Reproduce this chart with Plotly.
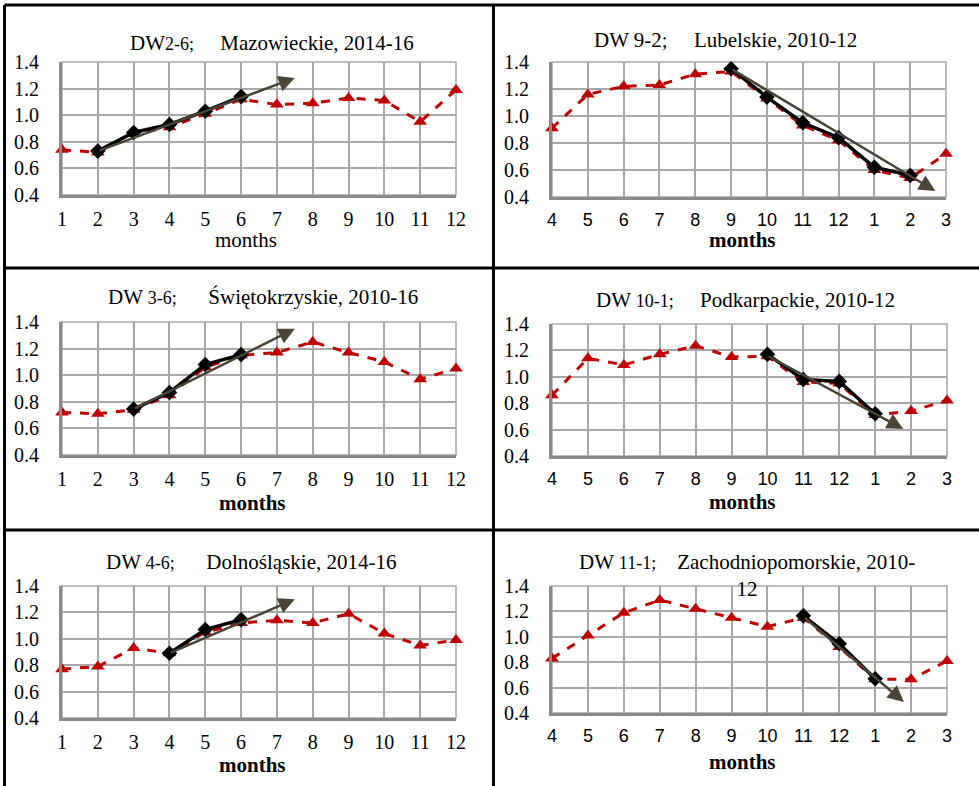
import plotly.graph_objects as go

W, H = 979, 786

months_jan = ["1", "2", "3", "4", "5", "6", "7", "8", "9", "10", "11", "12"]
months_apr = ["4", "5", "6", "7", "8", "9", "10", "11", "12", "1", "2", "3"]

# Panel data (index positions along the 12-month axis)
red_maz = [0.74, 0.72, 0.86, 0.91, 1.01, 1.12, 1.08, 1.09, 1.13, 1.11, 0.95, 1.19]
black_maz_x = [1, 2, 3, 4, 5]
black_maz = [0.73, 0.87, 0.93, 1.03, 1.14]
arrow_maz_x = [1, 6.5]
arrow_maz_y = [0.73, 1.28]

red_lub = [0.91, 1.16, 1.22, 1.23, 1.31, 1.33, 1.13, 0.93, 0.82, 0.60, 0.54, 0.72]
black_lub_x = [5, 6, 7, 8, 9, 10]
black_lub = [1.35, 1.14, 0.95, 0.84, 0.62, 0.56]
arrow_lub_x = [5, 10.7]
arrow_lub_y = [1.35, 0.445]

red_swi = [0.72, 0.71, 0.74, 0.85, 1.06, 1.15, 1.17, 1.25, 1.17, 1.10, 0.97, 1.05]
black_swi_x = [2, 3, 4, 5]
black_swi = [0.745, 0.87, 1.08, 1.155]
arrow_swi_x = [2, 6.5]
arrow_swi_y = [0.745, 1.35]

red_pod = [0.86, 1.14, 1.09, 1.17, 1.235, 1.15, 1.155, 0.96, 0.95, 0.71, 0.74, 0.82]
black_pod_x = [6, 7, 8, 9]
black_pod = [1.17, 0.98, 0.965, 0.72]
arrow_pod_x = [6, 9.78]
arrow_pod_y = [1.16, 0.605]

red_dol = [0.77, 0.79, 0.93, 0.89, 1.05, 1.12, 1.14, 1.12, 1.19, 1.04, 0.95, 0.99]
black_dol_x = [3, 4, 5]
black_dol = [0.89, 1.07, 1.145]
arrow_dol_x = [3, 6.5]
arrow_dol_y = [0.89, 1.30]

red_zac = [0.83, 1.01, 1.19, 1.29, 1.22, 1.15, 1.08, 1.15, 0.92, 0.665, 0.665, 0.81]
black_zac_x = [7, 8, 9]
black_zac = [1.165, 0.945, 0.67]
arrow_zac_x = [7, 9.8]
arrow_zac_y = [1.16, 0.487]

S = "\u00a0"
small = "<span style='font-size:18px'>{}</span>"

panels = [
    dict(title="DW" + small.format("2-6;") + S * 5 + "Mazowieckie, 2014-16",
         labels=months_jan, red=red_maz, bx=black_maz_x, by=black_maz,
         ax=arrow_maz_x, ay=arrow_maz_y, box=(62, 456, 62, 195),
         tpos=(272, 43), mpos=(246, 240), bold=False, sans=False),
    dict(title="DW 9-2;" + S * 5 + "Lubelskie, 2010-12",
         labels=months_apr, red=red_lub, bx=black_lub_x, by=black_lub,
         ax=arrow_lub_x, ay=arrow_lub_y, box=(552, 946, 62, 197),
         tpos=(725, 40), mpos=(742, 240), bold=True, sans=True),
    dict(title="DW " + small.format("3-6;") + S * 6 + "Świętokrzyskie, 2010-16",
         labels=months_jan, red=red_swi, bx=black_swi_x, by=black_swi,
         ax=arrow_swi_x, ay=arrow_swi_y, box=(62, 456, 322, 455),
         tpos=(263, 297), mpos=(252, 503), bold=True, sans=False),
    dict(title="DW " + small.format("10-1;") + S * 5 + "Podkarpackie, 2010-12",
         labels=months_apr, red=red_pod, bx=black_pod_x, by=black_pod,
         ax=arrow_pod_x, ay=arrow_pod_y, box=(552, 947, 324, 456),
         tpos=(745, 300), mpos=(742, 502), bold=True, sans=True),
    dict(title="DW " + small.format("4-6;") + S * 6 + "Dolnośląskie, 2014-16",
         labels=months_jan, red=red_dol, bx=black_dol_x, by=black_dol,
         ax=arrow_dol_x, ay=arrow_dol_y, box=(62, 456, 586, 718),
         tpos=(251, 562), mpos=(252, 765), bold=True, sans=False),
    dict(title="DW " + small.format("11-1;") + S * 4 + "Zachodniopomorskie, 2010-<br>12",
         labels=months_apr, red=red_zac, bx=black_zac_x, by=black_zac,
         ax=arrow_zac_x, ay=arrow_zac_y, box=(552, 947, 586, 713),
         tpos=(747, 575), mpos=(742, 762), bold=True, sans=True),
]

SERIF = "Liberation Serif"
SANS = "Liberation Sans"
RED = "#c00000"
ARROW = "#4a4636"

fig = go.Figure()
annotations = []
layout = {}

for i, p in enumerate(panels):
    n = "" if i == 0 else str(i + 1)
    xa, ya = "x" + n, "y" + n
    l, r, t, b = p["box"]
    idx = list(range(len(p["labels"])))
    fig.add_trace(go.Scatter(
        x=idx, y=p["red"], xaxis=xa, yaxis=ya, mode="lines+markers",
        line=dict(color=RED, width=3, dash="dash"),
        marker=dict(symbol="triangle-up", size=12, color=RED),
        showlegend=False, cliponaxis=False, hoverinfo="skip"))
    fig.add_trace(go.Scatter(
        x=p["bx"], y=p["by"], xaxis=xa, yaxis=ya, mode="lines+markers",
        line=dict(color="black", width=3.5),
        marker=dict(symbol="diamond", size=12, color="black"),
        showlegend=False, cliponaxis=False, hoverinfo="skip"))
    layout["xaxis" + n] = dict(
        domain=[l / W, r / W], anchor=ya, range=[0, 11],
        tickvals=idx, ticktext=p["labels"], showgrid=True,
        gridcolor="#a8a8a8", gridwidth=1.5, showline=True,
        linecolor="#8a8a8a", linewidth=3, ticks="", zeroline=False,
        ticklabelstandoff=4, automargin=False, fixedrange=True,
        tickfont=dict(family=SANS if p["sans"] else SERIF,
                      size=18 if p["sans"] else 20, color="black"))
    layout["yaxis" + n] = dict(
        domain=[1 - b / H, 1 - t / H], anchor=xa, range=[0.4, 1.4],
        dtick=0.2, tick0=0.4, tickformat=".1f", showgrid=True,
        gridcolor="#a8a8a8", gridwidth=1.5, showline=True,
        linecolor="#8a8a8a", linewidth=3, ticks="", zeroline=False,
        ticklabelstandoff=16, automargin=False, fixedrange=True,
        tickfont=dict(family=SERIF, size=20, color="black"))
    # outer plot border (top/right)
    fig.add_shape(type="rect", xref=xa + " domain", yref=ya + " domain",
                  x0=0, x1=1, y0=0, y1=1, line=dict(color="#a8a8a8", width=1.5),
                  layer="below")
    # trend arrow
    annotations.append(dict(
        x=p["ax"][1], y=p["ay"][1], ax=p["ax"][0], ay=p["ay"][0],
        xref=xa, yref=ya, axref=xa, ayref=ya, text="", showarrow=True,
        arrowhead=2, arrowsize=1.3, arrowwidth=2.5, arrowcolor=ARROW, standoff=0))
    # title
    annotations.append(dict(
        x=p["tpos"][0] / W, y=1 - p["tpos"][1] / H, xref="paper", yref="paper",
        text=p["title"], showarrow=False, xanchor="center", yanchor="middle",
        font=dict(family=SERIF, size=21, color="black")))
    # axis title
    mt = "<b>months</b>" if p["bold"] else "months"
    annotations.append(dict(
        x=p["mpos"][0] / W, y=1 - p["mpos"][1] / H, xref="paper", yref="paper",
        text=mt, showarrow=False, xanchor="center", yanchor="middle",
        font=dict(family=SERIF, size=21, color="black")))

# table borders
borders = [
    (4.5, 5, 979, 5),
    (4.5, 5, 4.5, 786),
    (493.5, 5, 493.5, 786),
    (4.5, 268, 979, 268),
    (4.5, 530, 979, 530),
]
for x0, y0, x1, y1 in borders:
    fig.add_shape(type="line", xref="paper", yref="paper",
                  x0=x0 / W, x1=x1 / W, y0=1 - y0 / H, y1=1 - y1 / H,
                  line=dict(color="black", width=3))

fig.update_layout(
    width=W, height=H, margin=dict(l=0, r=0, t=0, b=0, autoexpand=False),
    paper_bgcolor="white", plot_bgcolor="white", hovermode=False,
    annotations=annotations, **layout)

fig.write_html("out.html", config={"displayModeBar": False},
               post_script="document.body.style.margin='0';document.body.style.overflow='hidden';")
